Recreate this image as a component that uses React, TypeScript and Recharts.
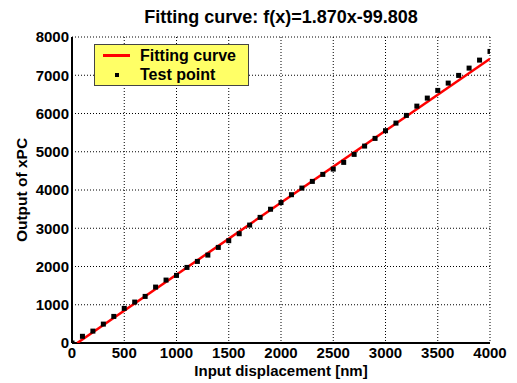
import React from "react";
import { ComposedChart, Scatter, XAxis, YAxis, CartesianGrid } from "recharts";

const displacement = [
  0, 100, 200, 300, 400, 500, 600, 700, 800, 900, 1000, 1100, 1200, 1300, 1400,
  1500, 1600, 1700, 1800, 1900, 2000, 2100, 2200, 2300, 2400, 2500, 2600, 2700,
  2800, 2900, 3000, 3100, 3200, 3300, 3400, 3500, 3600, 3700, 3800, 3900, 4000,
];
const output = [
  0, 175, 311, 494, 695, 905, 1070, 1218, 1462, 1645, 1767, 1976, 2133, 2298,
  2499, 2675, 2857, 3083, 3284, 3497, 3672, 3877, 4050, 4225, 4408, 4547, 4722,
  4931, 5148, 5349, 5550, 5749, 5950, 6193, 6403, 6604, 6795, 6996, 7187, 7396,
  7623,
];
const fitX = [50, 4000];
const fitY = [0, 7430];
const xTicks = [0, 500, 1000, 1500, 2000, 2500, 3000, 3500, 4000];
const yTicks = [0, 1000, 2000, 3000, 4000, 5000, 6000, 7000, 8000];

const title = "Fitting curve: f(x)=1.870x-99.808";
const xLabel = "Input displacement [nm]";
const yLabel = "Output of xPC";
const legendFit = "Fitting curve";
const legendPoint = "Test point";

const points = displacement.map((x, i) => ({ x, y: output[i] }));
const fitLine = fitX.map((x, i) => ({ x, y: fitY[i] }));

const FONT = "'Liberation Sans', Arial, sans-serif";
const tickStyle = { fontFamily: FONT, fontWeight: 700, fontSize: 15, fill: "#000" };

const SquareDot = (props: any) => {
  const { cx, cy } = props;
  if (cx == null || cy == null) return null;
  return <rect x={cx - 2.5} y={cy - 2.5} width={5} height={5} fill="#000" />;
};
const NoDot = () => null;

export default function App() {
  return (
    <div style={{ position: "absolute", left: 0, top: 0, width: 517, height: 383, background: "#fff", fontFamily: FONT }}>
      <ComposedChart
        width={517}
        height={383}
        margin={{ top: 37, right: 27, left: 0, bottom: 0 }}
      >
        <CartesianGrid stroke="#000" strokeDasharray="1 2" strokeWidth={1} />
        <XAxis
          type="number"
          dataKey="x"
          domain={[0, 4000]}
          ticks={xTicks}
          height={40}
          tick={tickStyle}
          tickLine={false}
          tickSize={3}
          tickMargin={1}
          axisLine={{ stroke: "#000", strokeWidth: 2 }}
          allowDataOverflow
        />
        <YAxis
          type="number"
          dataKey="y"
          domain={[0, 8000]}
          ticks={yTicks}
          width={72}
          tick={tickStyle}
          tickLine={false}
          tickSize={3}
          tickMargin={0}
          axisLine={{ stroke: "#000", strokeWidth: 2 }}
          allowDataOverflow
        />
        <Scatter
          data={fitLine}
          line={{ stroke: "#ff0000", strokeWidth: 2.5 }}
          shape={NoDot}
          isAnimationActive={false}
        />
        <Scatter data={points} shape={SquareDot} isAnimationActive={false} />
      </ComposedChart>

      <div style={{ position: "absolute", left: 0, width: 562, top: 6, textAlign: "center", fontWeight: 700, fontSize: 18, lineHeight: "22px", whiteSpace: "nowrap" }}>
        {title}
      </div>
      <div style={{ position: "absolute", left: 0, width: 562, top: 362, textAlign: "center", fontWeight: 700, fontSize: 15, lineHeight: "18px", whiteSpace: "nowrap" }}>
        {xLabel}
      </div>
      <div style={{ position: "absolute", left: 22 - 100, top: 190 - 9, width: 200, textAlign: "center", fontWeight: 700, fontSize: 15.5, lineHeight: "18px", transform: "rotate(-90deg)", whiteSpace: "nowrap" }}>
        {yLabel}
      </div>

      <div style={{ position: "absolute", left: 94, top: 44, width: 155, height: 42, boxSizing: "border-box", background: "#ffff66", border: "1px solid #444" }}>
        <div style={{ position: "absolute", left: 8, top: 9, width: 27, height: 3, background: "#ff0000" }} />
        <div style={{ position: "absolute", left: 45, top: 0, fontWeight: 700, fontSize: 16, lineHeight: "21px", whiteSpace: "nowrap" }}>{legendFit}</div>
        <div style={{ position: "absolute", left: 20, top: 28, width: 4, height: 4, background: "#000" }} />
        <div style={{ position: "absolute", left: 45, top: 19, fontWeight: 700, fontSize: 16, lineHeight: "21px", whiteSpace: "nowrap" }}>{legendPoint}</div>
      </div>
    </div>
  );
}
